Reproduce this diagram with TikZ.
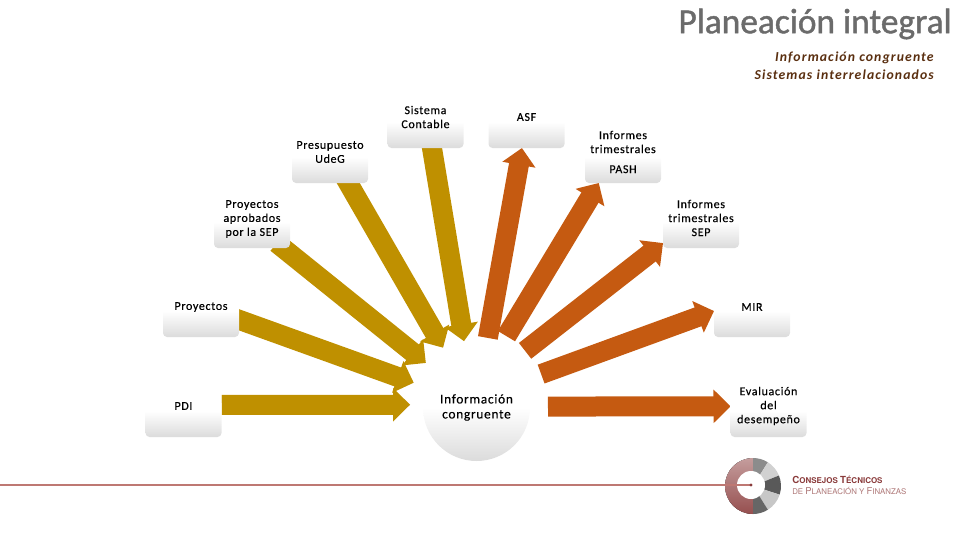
\documentclass[tikz,border=0pt]{standalone}
\usepackage{fontspec}
\usetikzlibrary{arrows.meta, positioning}
\newfontfamily\labelfont[LetterSpace=5.5,FakeBold=0.3]{Carlito}
\newfontfamily\subfont[LetterSpace=8]{Carlito}
\newfontfamily\titlefont[FakeBold=1.2]{Carlito}
\newfontfamily\logofont{TeX Gyre Heros}
\definecolor{infogold}{HTML}{BF9000}
\definecolor{inforust}{HTML}{C55A11}
\definecolor{subbrown}{HTML}{5A2F10}
\definecolor{logored}{HTML}{8A3B3B}
\definecolor{linered}{RGB}{190,120,115}
\tikzstyle{box} = [rectangle, rounded corners=3pt, minimum width=57pt, minimum height=39pt, inner sep=0pt, outer sep=0pt, shade, top color=white, bottom color=black!14, middle color=white]
\tikzstyle{boxtext} = [yshift=3.75pt, align=center, font=\labelfont\fontsize{9}{10.5}\selectfont]
\tikzstyle{arrow} = [line width=15pt, -{Triangle[length=12.75pt, width=24.5pt]}]
\pgfdeclarelayer{back}
\pgfsetlayers{back,main}

\begin{document}
\begin{tikzpicture}[x=0.75pt, y=-0.75pt]
    \useasboundingbox (0,0) rectangle (960,540);

    % Title
    \node (title) [anchor=east, inner sep=0pt, text=black!58, font=\titlefont\fontsize{26.5}{30}\selectfont] at (952,24) {Planeación integral};
    \node (subtitle) [anchor=east, inner sep=0pt, align=right, text=subbrown, font=\subfont\bfseries\itshape\fontsize{10.3}{13.5}\selectfont] at (934,65.5) {Información congruente\\Sistemas interrelacionados};

    % Nodes
    \node (hub) [circle, minimum size=80.25pt, inner sep=0pt, outer sep=0pt, shade, top color=white, bottom color=black!14, middle color=white, align=center, font=\labelfont\fontsize{10}{11.25}\selectfont] at (476.5,407.5) {Información\\congruente};

    \node (pdi) [box, label={[boxtext]center:PDI}] at (183.5,411) {};
    \node (proyectos) [box, label={[boxtext, yshift=-0.75pt]center:Proyectos}] at (201,311) {};
    \node (aprobados) [box, label={[boxtext, yshift=-1.5pt]center:Proyectos\\aprobados\\por la SEP}] at (252,222) {};
    \node (presupuesto) [box, label={[boxtext]center:Presupuesto\\UdeG}] at (330,157) {};
    \node (sistema) [box, label={[boxtext]center:Sistema\\Contable}] at (425.5,122) {};

    \node (asf) [box, right=18.75pt of sistema, label={[boxtext]center:ASF}] {};
    \node (pash) [box, right=162.75pt of presupuesto, label={[boxtext]center:Informes\\trimestrales\\[4.5pt]PASH}] {};
    \node (sep) [box, right=279.75pt of aprobados, label={[boxtext, yshift=-0.75pt]center:Informes\\trimestrales\\SEP}] {};
    \node (mir) [box, right=356.25pt of proyectos, label={[boxtext, yshift=-0.75pt]center:MIR}] {};
    \node (evaluacion) [box, right=381.75pt of pdi, label={[boxtext]center:Evaluación\\del\\desempeño}] {};

    % Arrows
    \begin{pgfonlayer}{back}
    \draw [arrow, infogold, shorten >=9.75pt] (pdi.9) -- (hub.177.8);
    \draw [arrow, infogold, shorten <=-6pt, shorten >=10.5pt] (proyectos.-13.3) -- (hub.158.6);
    \draw [arrow, infogold, shorten <=-6pt, shorten >=10.5pt] (aprobados.-40) -- (hub.138);
    \draw [arrow, infogold, shorten <=-6pt, shorten >=11.25pt] (presupuesto.-55) -- (hub.119.2);
    \draw [arrow, infogold, shorten <=-6pt, shorten >=10.5pt] (sistema.-76) -- (hub.101);

    \draw [arrow, inforust, shorten <=12.75pt] (hub.81) -- (asf.260);
    \draw [arrow, inforust, shorten <=18.2pt] (hub.71.5) -- (pash.227);
    \draw [arrow, inforust, shorten <=16.3pt] (hub.54) -- (sep.209);
    \draw [arrow, inforust, shorten <=14.6pt] (hub.30) -- (mir.west);
    \draw [arrow, inforust, shorten <=13.5pt] (hub.1.6) -- (evaluacion.173);
    \end{pgfonlayer}

    % Footer
    \coordinate (edge) at (0,485);
    \coordinate (logo) at (751,485);
    \begin{scope}[shift={(753,486)}]
        \fill [top color=logored!50, bottom color=logored!90] (90:21pt) arc[start angle=90, end angle=270, radius=21pt] -- cycle;
        \foreach \from/\to/\shade in {90/58/black!45, 58/22/black!18, 22/-18/black!65, -18/-58/black!22, -58/-90/black!60} {
            \fill [\shade] (0,0) -- (\from:21pt) arc[start angle=\from, end angle=\to, radius=21pt] -- cycle;
        }
    \end{scope}
    \fill [white] (logo) circle (10.5pt);
    \draw [linered, line width=0.8pt] (edge) -- (logo);
    \fill [logored] (logo) circle (1.2pt);
    \node (consejos) [anchor=west, inner sep=0pt, text=logored, font=\logofont\bfseries\fontsize{7.3}{9}\selectfont] at (792,480) {C\fontsize{6}{9}\selectfont ONSEJOS \fontsize{7.3}{9}\selectfont T\fontsize{6}{9}\selectfont ÉCNICOS};
    \node (finanzas) [anchor=west, inner sep=0pt, text=logored!70, font=\logofont\fontsize{7.1}{9}\selectfont] at (792,491) {\fontsize{5.9}{9}\selectfont DE \fontsize{7.1}{9}\selectfont P\fontsize{5.9}{9}\selectfont LANEACIÓN Y \fontsize{7.1}{9}\selectfont F\fontsize{5.9}{9}\selectfont INANZAS};
\end{tikzpicture}
\end{document}
